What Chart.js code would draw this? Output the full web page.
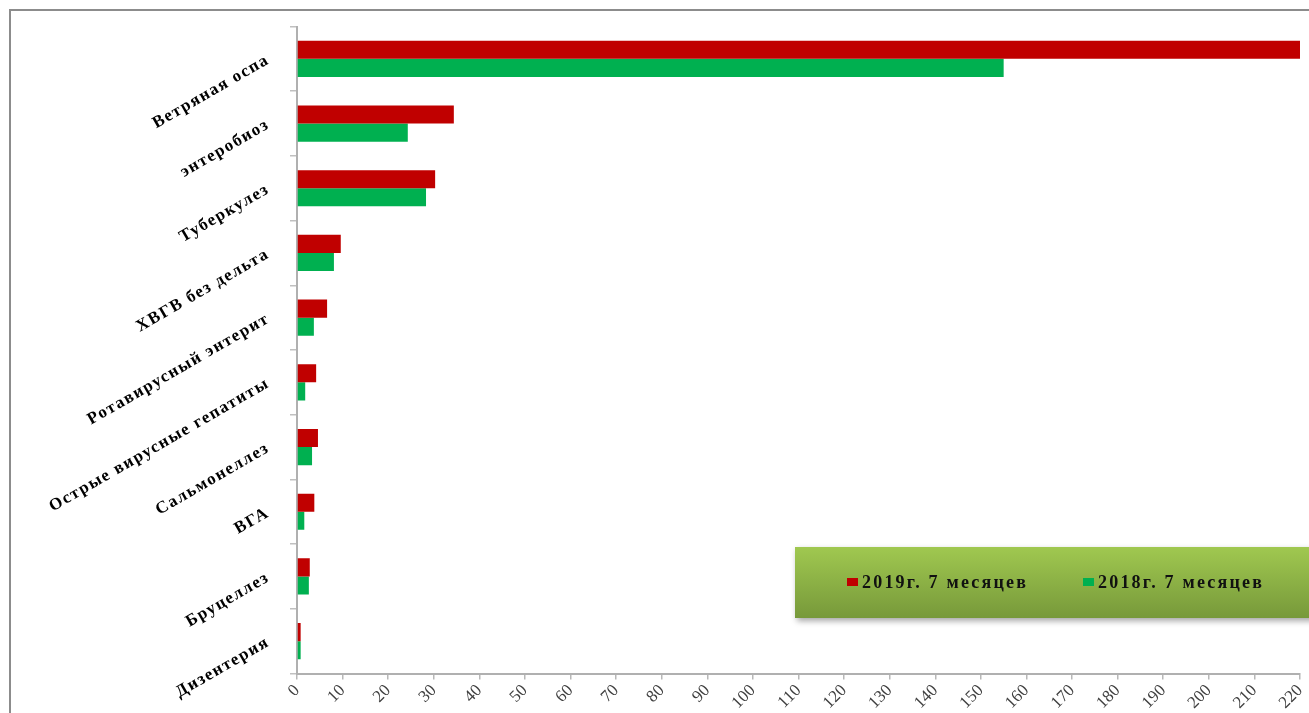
<!DOCTYPE html>
<html lang="ru">
<head>
<meta charset="utf-8">
<title>Инфекционная заболеваемость, 7 месяцев 2018–2019 гг.</title>
<script src="https://cdn.jsdelivr.net/npm/chart.js@4.4.1/dist/chart.umd.min.js"></script>
<style>
  html, body { margin: 0; padding: 0; background: #fff; }
  #wrap { position: relative; width: 1309px; height: 713px; }
</style>
</head>
<body>
<div id="wrap"><canvas id="chart"></canvas></div>
<script>
// категории сверху вниз
var categories = ['Ветряная оспа', 'энтеробиоз', 'Туберкулез', 'ХВГВ без дельта',
  'Ротавирусный энтерит', 'Острые вирусные гепатиты', 'Сальмонеллез', 'ВГА',
  'Бруцеллез', 'Дизентерия'];
var series2019 = [220, 34.4, 30.3, 9.6, 6.6, 4.2, 4.6, 3.8, 2.8, 0.8];
var series2018 = [155, 24.3, 28.3, 8.1, 3.7, 1.8, 3.3, 1.6, 2.6, 0.8];
var seriesNames = ['2019г. 7 месяцев', '2018г. 7 месяцев'];
var seriesColors = ['#c00000', '#00b050'];
var xMin = 0, xMax = 220, xStep = 10;

// рамка вокруг диаграммы
var framePlugin = {
  id: 'frame',
  beforeDraw: function (chart) {
    var c = chart.ctx;
    c.save();
    c.strokeStyle = '#8c8c8c';
    c.lineWidth = 2;
    c.strokeRect(10, 10, 1400, 800);
    c.restore();
    // разрядка букв для подписей категорий
    var y = chart.scales.y;
    if (y && !y._spaced) {
      var orig = y.drawLabels;
      y.drawLabels = function (area) {
        this.ctx.save();
        this.ctx.letterSpacing = '1.5px';
        orig.call(this, area);
        this.ctx.restore();
      };
      y._spaced = true;
    }
  }
};

// легенда в зелёной плашке
var legendBox = {
  id: 'legendBox',
  afterDraw: function (chart) {
    var c = chart.ctx;
    c.save();
    c.shadowColor = 'rgba(0,0,0,0.35)';
    c.shadowBlur = 6;
    c.shadowOffsetX = 2;
    c.shadowOffsetY = 3;
    var g = c.createLinearGradient(0, 547, 0, 618);
    g.addColorStop(0, '#a0c850');
    g.addColorStop(1, '#77993a');
    c.fillStyle = g;
    c.fillRect(795, 547, 540, 71);
    c.restore();

    c.save();
    c.font = 'bold 18px "Liberation Serif", "Times New Roman", serif';
    c.letterSpacing = '2.2px';
    c.textBaseline = 'middle';
    var xs = [847, 1083];
    chart.data.datasets.forEach(function (ds, i) {
      c.fillStyle = ds.backgroundColor;
      c.fillRect(xs[i], 578, 11, 8);
      c.fillStyle = '#111';
      c.fillText(ds.label, xs[i] + 15, 583);
    });
    c.restore();
  }
};

new Chart(document.getElementById('chart'), {
  type: 'bar',
  data: {
    labels: categories,
    datasets: [
      { label: seriesNames[0], data: series2019, backgroundColor: seriesColors[0] },
      { label: seriesNames[1], data: series2018, backgroundColor: seriesColors[1] }
    ]
  },
  options: {
    indexAxis: 'y',
    responsive: true,
    maintainAspectRatio: false,
    animation: false,
    devicePixelRatio: 1,
    categoryPercentage: 0.56,
    barPercentage: 1,
    layout: { padding: { left: 0, top: 26.5, right: 9, bottom: 0 } },
    plugins: {
      legend: { display: false },
      tooltip: { enabled: false }
    },
    scales: {
      x: {
        min: xMin,
        max: xMax,
        grid: { drawOnChartArea: false, tickLength: 6, color: '#b8b8b8', lineWidth: 1.5 },
        border: { color: '#b0b0b0', width: 2 },
        ticks: {
          stepSize: xStep,
          autoSkip: false,
          minRotation: 45,
          maxRotation: 45,
          padding: 1,
          color: '#404040',
          font: { family: '"Liberation Serif", "Times New Roman", serif', size: 17 }
        },
        afterFit: function (s) { s.height = 39.5; s.paddingLeft = 0; s.paddingRight = 0; }
      },
      y: {
        grid: { drawOnChartArea: false, offset: true, tickLength: 7, color: '#c0c0c0', lineWidth: 1.5 },
        border: { color: '#b0b0b0', width: 2 },
        ticks: {
          autoSkip: false,
          minRotation: 30,
          maxRotation: 30,
          padding: 22,
          color: '#000',
          font: { family: '"Liberation Serif", "Times New Roman", serif', size: 17, weight: 'bold' }
        },
        afterFit: function (s) { s.width = 297; s.paddingTop = 0; s.paddingBottom = 0; }
      }
    }
  },
  plugins: [framePlugin, legendBox]
});
</script>
</body>
</html>
